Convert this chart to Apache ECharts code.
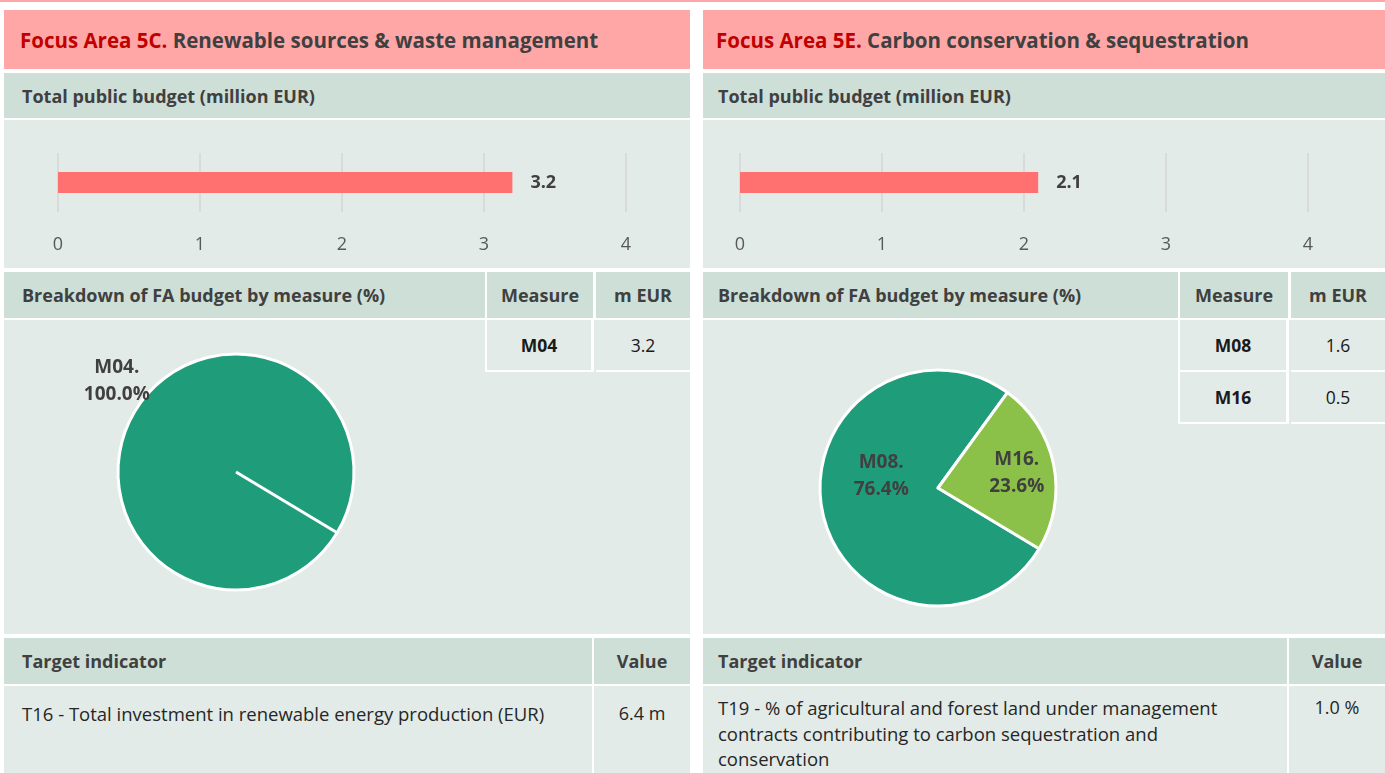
<!DOCTYPE html>
<html>
<head>
<meta charset="utf-8">
<title>Focus areas 5C / 5E</title>
<script src="https://cdn.jsdelivr.net/npm/echarts@6/dist/echarts.min.js"></script>
<style>
  body { margin: 0; width: 1385px; height: 773px; background: #fff; position: relative; overflow: hidden;
         font-family: "Open Sans", Lato, sans-serif; color: #404040; }
  .box { position: absolute; box-sizing: border-box; display: flex; align-items: center; }
  .pink { background: #FFA7A7; }
  .head { background: #CEDFD7; font-weight: bold; font-size: 18px; }
  .body { background: #E2EBE7; }
  .cell { position: absolute; box-sizing: border-box; display: flex; align-items: center; justify-content: center;
          font-size: 17.5px; color: #1a1a1a; }
  #chart { position: absolute; left: 0; top: 0; width: 1385px; height: 773px; }
</style>
</head>
<body>
<div id="page"></div>
<div id="chart"></div>
<script>
// ---- data ----
var focusCodes = ["Focus Area 5C.", "Focus Area 5E."];
var focusTitles = ["Renewable sources & waste management", "Carbon conservation & sequestration"];
var budgetTotals = [3.2, 2.1];           // total public budget, million EUR
var axisMax = 4;
var measuresA = ["M04"];
var measureEurA = [3.2];
var pieSharesA = [100.0];
var measuresB = ["M08", "M16"];
var measureEurB = [1.6, 0.5];
var pieSharesB = [76.4, 23.6];
var targetLabels = [
  "T16 - Total investment in renewable energy production (EUR)",
  "T19 - % of agricultural and forest land under management<br>contracts contributing to carbon sequestration and<br>conservation"
];
var targetValues = ["6.4 m", "1.0 %"];

// ---- layout of the two panels ----
var panels = [
  { x: 4, w: 686, measX: 487, measW: 106, eurX: 596, eurW: 94, valX: 594, valTop: 15 },
  { x: 703, w: 682, measX: 1180, measW: 108, eurX: 1291, eurW: 94, valX: 1289, valTop: 9 }
];
var page = document.getElementById("page");

function box(x, y, w, h, cls, html, style) {
  var d = document.createElement("div");
  d.className = cls;
  d.style.cssText = "left:" + x + "px;top:" + y + "px;width:" + w + "px;height:" + h + "px;" + (style || "");
  d.innerHTML = html || "";
  page.appendChild(d);
  return d;
}

box(0, 0, 1385, 2, "box pink");

panels.forEach(function (p, i) {
  var right = p.x + p.w;
  var pad = i === 0 ? 16 : 13;
  box(p.x, 10, p.w, 59, "box pink",
    '<span style="color:#C00000">' + focusCodes[i] + '</span>&nbsp;' + focusTitles[i],
    "padding-left:" + pad + "px;font-weight:bold;font-size:20.5px;");
  box(p.x, 73, p.w, 45, "box head", "Total public budget (million EUR)", "padding-left:" + (pad + 2) + "px;");
  box(p.x, 120, p.w, 148, "box body");
  // breakdown header row
  box(p.x, 272, p.measX - 2 - p.x, 46, "box head", "Breakdown of FA budget by measure (%)", "padding-left:" + (pad + 2) + "px;");
  box(p.measX, 272, p.measW, 46, "box head", "Measure", "justify-content:center;");
  box(p.eurX, 272, right - p.eurX, 46, "box head", "m EUR", "justify-content:center;");
  box(p.x, 320, p.w, 314, "box body");
  // measure table
  var ms = i === 0 ? measuresA : measuresB;
  var me = i === 0 ? measureEurA : measureEurB;
  ms.forEach(function (m, k) {
    var y = 320 + k * 52;
    box(p.measX - 2, y, p.measW + 3, 52, "cell", "<b>" + m + "</b>",
      "border-left:2px solid #fff;border-right:3px solid #fff;border-bottom:2px solid #fff;");
    box(p.eurX, y, right - p.eurX, 52, "cell", me[k].toFixed(1), "border-bottom:2px solid #fff;");
  });
  // target indicator
  box(p.x, 638, p.valX - 2 - p.x, 46, "box head", "Target indicator", "padding-left:" + (pad + 2) + "px;");
  box(p.valX, 638, right - p.valX, 46, "box head", "Value", "justify-content:center;");
  box(p.x, 686, p.valX - 2 - p.x, 87, "box body", targetLabels[i],
    "align-items:flex-start;padding-left:" + (pad + 2) + "px;padding-top:" + p.valTop + "px;font-size:18.5px;line-height:25.5px;color:#262626;");
  box(p.valX, 686, right - p.valX, 87, "box body", targetValues[i],
    "align-items:flex-start;justify-content:center;padding-top:" + p.valTop + "px;font-size:18px;line-height:25.5px;color:#262626;");
});

// ---- charts ----
var chart = echarts.init(document.getElementById("chart"));
var font = "Open Sans";
var pieStart = -31;          // degrees, first slice edge just below 3 o'clock
var pieR = 118;
var pieCenters = [[236, 472], [938, 488]];
var pieColorsA = ["#1F9C7A"];
var pieColorsB = ["#1F9C7A", "#8BC148"];
var labelShift = [[[-66, -59]], [[4, -24], [18, -3]]];

function valueAxis(g) {
  return {
    gridIndex: g, type: "value", min: 0, max: axisMax, interval: 1,
    axisLine: { show: false }, axisTick: { show: false },
    splitLine: { lineStyle: { color: "#D6D6D6", width: 1.5 } },
    axisLabel: { fontFamily: font, fontSize: 18, color: "#595959", margin: 24 }
  };
}
function catAxis(g) {
  return { gridIndex: g, type: "category", data: ["Total"], show: false };
}
function barSeries(g) {
  return {
    type: "bar", xAxisIndex: g, yAxisIndex: g, barWidth: 21,
    data: [budgetTotals[g]],
    itemStyle: { color: "#FF7171" },
    label: { show: true, position: "right", distance: 18, fontFamily: font, fontSize: 18,
             fontWeight: "bold", color: "#404040", formatter: function (p) { return p.value.toFixed(1); } },
    silent: true
  };
}
function pieSeries(g, names, shares, colors) {
  return {
    type: "pie", center: pieCenters[g], radius: pieR, startAngle: pieStart, silent: true,
    data: names.map(function (n, k) { return { name: n, value: shares[k], itemStyle: { color: colors[k] } }; }),
    itemStyle: { borderColor: "#fff", borderWidth: 3 },
    label: { show: true, position: "inside", fontFamily: font, fontSize: 19, fontWeight: "bold",
             color: "#404040", lineHeight: 27,
             formatter: function (p) { return p.name + ".\n" + p.value.toFixed(1) + "%"; } },
    labelLine: { show: false },
    labelLayout: function (p) { var s = labelShift[g][p.dataIndex]; return { dx: s[0], dy: s[1] }; }
  };
}

var a = -pieStart * Math.PI / 180;
var option = {
  animation: false,
  textStyle: { fontFamily: font },
  grid: [
    { left: 58, top: 153, width: 568, height: 59 },
    { left: 740, top: 153, width: 568, height: 59 }
  ],
  xAxis: [valueAxis(0), valueAxis(1)],
  yAxis: [catAxis(0), catAxis(1)],
  series: [
    barSeries(0), barSeries(1),
    pieSeries(0, measuresA, pieSharesA, pieColorsA),
    pieSeries(1, measuresB, pieSharesB, pieColorsB)
  ],
  // the single 100% slice still shows its seam, as in the source
  graphic: [{
    type: "line", z: 100,
    shape: { x1: pieCenters[0][0], y1: pieCenters[0][1],
             x2: pieCenters[0][0] + pieR * Math.cos(a), y2: pieCenters[0][1] + pieR * Math.sin(a) },
    style: { stroke: "#fff", lineWidth: 3 }
  }]
};
chart.setOption(option);
</script>
</body>
</html>
